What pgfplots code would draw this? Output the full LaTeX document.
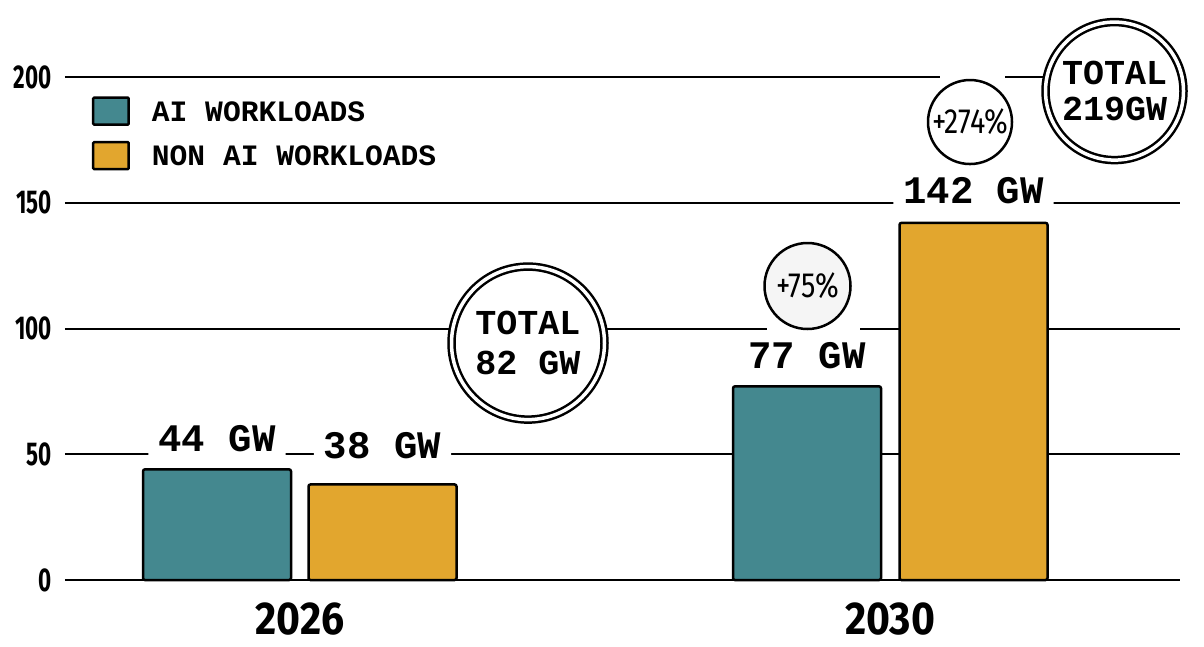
\documentclass[border=0pt]{standalone}
\usepackage{fontspec}
\usepackage{pgfplots}
\usepackage{pgfplotstable}
\pgfplotsset{compat=1.18}
\newfontfamily\monofont{Liberation Mono}
\newfontfamily\condfont[FakeStretch=0.68]{Fira Sans}
\newfontfamily\yearfont[FakeStretch=0.89]{Fira Sans}
\newfontfamily\pctfont[FakeStretch=0.82]{Fira Sans}
\definecolor{aiteal}{RGB}{68,136,143}
\definecolor{nonaiorange}{RGB}{226,166,46}

% x = pixel position of bar centre, y = GW, dy = label offset above bar (pt)
\pgfplotstableread{
x y dy
217 44 18
807 77 18
}\aidata
\pgfplotstableread{
x y dy
382.5 38 26
973.5 142 19
}\nonaidata

\begin{document}
\begin{tikzpicture}
\begin{axis}[
  scale only axis,
  width=1115pt, height=503pt,
  xmin=65, xmax=1180, ymin=0, ymax=200,
  clip=false,
  /pgf/number format/assume math mode=true,
  axis line style={draw=none},
  tick style={draw=none},
  ytick={0,50,100,150,200},
  yticklabels={0,50,100,150,200},
  yticklabel style={font=\condfont\bfseries\fontsize{33}{33}\selectfont, inner sep=0pt, xshift=-13pt},
  xtick={300,890},
  xticklabels={2026,2030},
  xticklabel style={font=\yearfont\bfseries\fontsize{46}{46}\selectfont, anchor=north, inner sep=0pt, yshift=-18pt},
  ymajorgrids,
  grid style={black, line width=2pt},
  ybar, bar width=148, bar shift=0pt,
  swatch/.style={legend image code/.code={
    \path[##1, draw=black, line width=2.5pt, rounded corners=1pt] (0pt,-12.5pt) rectangle (35.5pt,14.5pt);}},
  legend style={at={(0.024,0.962)}, anchor=north west, draw=none, fill=none, inner sep=0pt,
    font=\monofont\bfseries\fontsize{29.6}{30}\selectfont,
    nodes={inner sep=0pt}, column sep=22pt, row sep=15pt},
  legend cell align=left,
  nodes near coords={\pgfmathprintnumber{\pgfplotspointmeta} GW},
  visualization depends on={\thisrow{dy} \as \labdy},
  every node near coord/.append style={font=\monofont\bfseries\fontsize{39}{39}\selectfont,
    anchor=base, yshift=\labdy pt, fill=white, inner xsep=10pt, inner ysep=6pt, text=black},
]
\addplot[fill=aiteal, draw=black, line width=2.5pt, rounded corners=2pt, swatch] table[x=x, y=y] {\aidata};
\addlegendentry{AI WORKLOADS}
\addplot[fill=nonaiorange, draw=black, line width=2.5pt, rounded corners=2pt, swatch] table[x=x, y=y] {\nonaidata};
\addlegendentry{NON AI WORKLOADS}

% gaps in the grid lines
\draw[white, line width=4pt] (axis cs:767,100) -- (axis cs:860,100);
\draw[white, line width=4pt] (axis cs:940,200) -- (axis cs:1005,200);

\node[circle, draw=black, line width=2.5pt, double=white, double distance=3.5pt,
  fill=white, minimum size=153pt, inner sep=0pt, align=center,
  font=\monofont\bfseries\fontsize{35}{40}\selectfont] at (axis cs:528,94.2) {TOTAL\\82 GW};
\node[circle, draw=black, line width=2.5pt, fill=black!4, minimum size=86pt, inner sep=0pt,
  font=\pctfont\fontsize{35}{35}\selectfont] at (axis cs:807.5,116.9) {+75\%};
\node[circle, draw=black, line width=2.5pt, fill=white, minimum size=84pt, inner sep=0pt,
  font=\pctfont\fontsize{35}{35}\selectfont] at (axis cs:970,182.1) {+274\%};
\node[circle, draw=black, line width=2.5pt, double=white, double distance=3.5pt,
  fill=white, minimum size=138pt, inner sep=0pt, align=center,
  font=\monofont\bfseries\fontsize{35}{36}\selectfont] at (axis cs:1114.5,194.4) {TOTAL\\219GW};

\coordinate (bl) at (axis cs:0,-26.24);
\coordinate (tr) at (axis cs:1204,230.62);
\end{axis}
\path (bl) rectangle (tr);
\end{tikzpicture}
\end{document}
